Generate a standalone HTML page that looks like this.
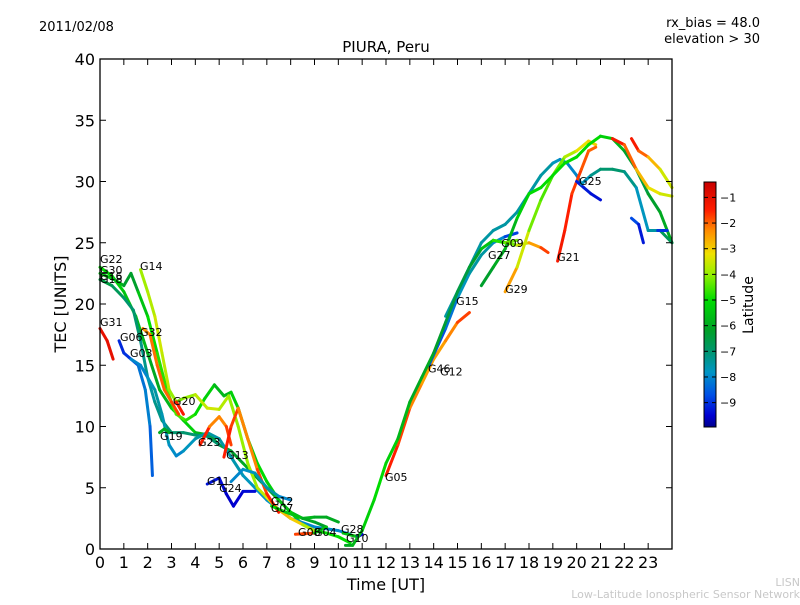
<!DOCTYPE html>
<html><head><meta charset="utf-8">
<style>
body{margin:0;background:#fff;}
svg text{font-family:"DejaVu Sans","Liberation Sans",sans-serif;}
</style></head>
<body>
<svg id="chart" width="800" height="600" viewBox="0 0 800 600" xmlns="http://www.w3.org/2000/svg">
<rect width="800" height="600" fill="#fff"/>
<text x="39" y="31" font-size="13">2011/02/08</text>
<text x="760" y="27" font-size="13" text-anchor="end">rx_bias = 48.0</text>
<text x="760" y="43" font-size="13" text-anchor="end">elevation &gt; 30</text>
<text x="386" y="52" font-size="15" text-anchor="middle">PIURA, Peru</text>
<g id="tracks"></g>
<g id="labels"></g>
<rect x="100" y="59" width="572" height="490" fill="none" stroke="#000" stroke-width="1.3"/>
<g id="xaxis"></g>
<g id="yaxis"></g>
<text x="386" y="590" font-size="16" text-anchor="middle">Time [UT]</text>
<text transform="translate(66,304) rotate(-90)" font-size="16" text-anchor="middle">TEC [UNITS]</text>
<defs><linearGradient id="jet" x1="0" y1="1" x2="0" y2="0"></linearGradient></defs>
<rect x="704" y="182" width="12" height="245" fill="url(#jet)" stroke="#000" stroke-width="1"/>
<g id="cbticks"></g>
<text transform="translate(753,305) rotate(-90)" font-size="14" text-anchor="middle">Latitude</text>
<text x="800" y="586" font-size="11" fill="#c8c8c8" text-anchor="end">LISN</text>
<text x="800" y="598" font-size="11" fill="#c8c8c8" text-anchor="end">Low-Latitude Ionospheric Sensor Network</text>
</svg>
<script>
const xTicks=[0,1,2,3,4,5,6,7,8,9,10,11,12,13,14,15,16,17,18,19,20,21,22,23];
const yTicks=[0,5,10,15,20,25,30,35,40];
const cbTicks=[-1,-2,-3,-4,-5,-6,-7,-8,-9];
const trackNames=["G22","G30","G16","G31","G06","G03","G14","G32","G20","G23","G13","G19","G11","G24","G12","G08","G28","G05","G27","G09","G15","G29","G21","G25","G-peak","G-teal2","G-red1","G-red2","G-blue1","G-blue2","G-rise"];
const trackTimes=[
[0,0.5,1,1.5,2,2.5,3,3.5,4,4.6,5,5.5,6,6.5,7,7.5,8,8.5,9,9.5,10],
[0,0.6,1,1.3,1.6,2,2.4,2.8,3.2,3.6,4,4.4,4.8,5.2,5.5,5.8,6.2,6.6,7,7.5,8,8.5,9,9.5,10,10.5],
[0,0.5,1,1.4,1.7,2,2.3,2.6,3,3.5,4,4.5,5],
[0,0.3,0.55],
[0.8,1,1.3,1.6,1.9,2.1,2.2],
[1.3,1.7,2,2.3,2.6,2.9,3.2,3.5,4,4.5,5,5.5,6,6.5,7,8,9,10,10.5],
[1.7,2,2.3,2.6,2.9,3.2,3.5,4,4.5,5,5.4,5.8,6.2,6.6,7,7.5,8,8.5,9],
[1.8,2.1,2.4,2.7,3,3.3],
[3.2,3.5],
[4.2,4.6,5,5.3,5.5],
[5.2,5.5,5.8,6.2,6.6,7,7.5],
[2.5,2.7,2.9],
[4.5,5,5.3,5.6,6,6.5],
[5.5,6,6.5,7,7.5,8],
[7.2,7.8,8.5,9,9.5],
[8.2,9,9.5],
[10.2,10.8,11],
[12,12.5,13,13.5,14,14.5,15,15.5],
[13.8,14.5,15,15.5,16,16.5,17,17.5],
[16.5,17,17.5,18,18.5,18.8],
[14.5,15,15.5,16,16.5,17,17.5,18,18.5,19,19.3,19.6,20,20.2],
[17,17.5,18,18.5,19,19.5,20,20.5,20.8],
[19.2,19.5,19.8,20.2,20.5,20.8],
[20,20.3,20.6,21],
[16,16.5,17,17.5,18,18.5,19,19.5,20,20.5,21,21.5,22,22.5,23,23.5,24],
[20.2,20.6,21,21.5,22,22.5,23,23.5,24],
[21.5,22,22.5,23,23.5,24],
[22.3,22.6,23,23.5,24],
[22.3,22.6,22.8],
[23.4,23.8],
[10.3,10.6,11,11.5,12,12.5,13,13.5,14,14.5,15,15.5,16,16.5,17,17.5]
];
const trackTec=[
[23,22.3,21,19,16,13,11.5,10.5,9.5,9.3,8.5,8,7,6,5,4,3,2.5,2.6,2.6,2.2],
[22.5,22,21.5,22.5,21,19,16,13,11,10.5,11,12.3,13.4,12.5,12.8,11.5,9,7,5.5,4,3,2,1.5,1.3,1,0.5],
[22,21.5,20.5,19.5,17,14,12,10.5,9.5,9.5,9.3,9.2,8.5],
[18,17,15.5],
[17,16,15.5,15,13,10,6],
[15.5,15,14,13,11,8.5,7.6,8,9,9.5,9,7.5,6,5,4,2.5,1.8,1.5,1.2],
[22.8,21,19,16,13,12,12.3,12.6,11.5,11.4,12.5,10,7,5,4.2,3.2,2.5,2,1.5],
[18,17.5,15,13,12,11],
[12,11],
[8.5,10,10.8,10,8.5],
[7.5,10,11.5,9,6.5,4.5,3],
[9.5,9.8,9.5],
[5.3,5.8,4.5,3.5,4.7,4.7],
[5.5,6.5,6.2,5,4.3,4],
[3.5,3,2.5,2.2,1.8],
[1.2,1.3,1.8],
[1.3,1.0,1.2],
[6,8.5,11.5,13.5,15.5,17,18.5,19.3],
[15,18,20.5,22.5,24,25,25.5,25.8],
[25.2,25,24.8,25,24.6,24.2],
[19,21,23,25,26,26.5,27.5,29,30.5,31.5,31.8,31.5,30.5,29.8],
[21,23,26,28.5,30.5,32,32.5,33.3,33],
[23.5,26,29,31,32.5,32.8],
[30,29.5,29,28.5],
[21.5,23,24.5,27,29,29.5,30.5,31.5,32,33,33.7,33.5,32.5,31,29,27.5,25],
[29.8,30.5,31,31,30.8,29.5,26,26,25],
[33.5,33,31,29.5,29,28.8],
[33.5,32.5,32,31,29.5],
[27,26.5,25],
[26,26],
[0.3,0.3,1.5,4,7,9,12,14,16,18.5,21,23,24.5,25.2,25,25.2]
];
const trackLat=[
[-5,-5,-5.5,-5.5,-6,-6,-5.5,-5,-5.5,-6,-6,-6.5,-6,-6,-6.5,-6,-6,-5.5,-6,-6,-6],
[-5.5,-5.5,-6,-6.5,-6,-5,-5,-4.5,-4.5,-4.5,-5,-5,-5.5,-6,-5.5,-5,-5.5,-5,-5,-5.5,-5.5,-5,-5,-5,-5,-5],
[-6.5,-6.5,-7,-7,-7,-7.5,-7.5,-7,-7,-7,-7,-7,-7],
[-1,-1,-1],
[-9.2,-9,-9,-8.5,-8,-8.2,-8.8],
[-8,-8,-8,-7.5,-7.5,-7.8,-8,-8,-7.5,-7.5,-7.5,-7.5,-7.7,-7.8,-7.8,-8,-8,-8,-8],
[-3.8,-4,-3.5,-3.5,-3.8,-4.2,-4.2,-3.8,-3.5,-3.5,-4,-4,-4,-3.8,-3.5,-3,-2.5,-3.5,-4],
[-2.5,-2.2,-2,-2,-2,-1.5],
[-1.5,-1.2],
[-1,-2,-2.5,-2,-1.5],
[-1.5,-1.5,-2,-2.5,-2,-1.5,-1.5],
[-6,-6,-6],
[-9.3,-9.3,-9.5,-9.6,-9.4,-9.4],
[-8,-8,-7.7,-7.5,-7.5,-8.5],
[-5,-5,-6,-6,-6.5],
[-1.5,-2,-9],
[-1.5,-9.5,-9.5],
[-1.5,-1.5,-2,-2.5,-2.5,-2.5,-2,-1.5],
[-9,-8.5,-8,-7.5,-7.5,-7.5,-8.5,-9.2],
[-5,-4.5,-4,-3,-2,-1.5],
[-7.5,-7.5,-7.5,-7.5,-7.5,-7.5,-7.5,-7.5,-7.5,-7.5,-8,-8,-8,-8],
[-2,-3,-4,-4.5,-4.5,-4,-3.5,-3,-3],
[-1.2,-1.4,-1.6,-1.8,-2,-2],
[-9.2,-9.2,-9.3,-9.4],
[-6.5,-6,-6,-5.5,-5,-5,-5,-5,-5,-5,-5,-5.5,-6,-6.5,-6.5,-6,-6],
[-8,-7.5,-7,-7,-7,-7.5,-8,-7,-6.5],
[-1.2,-1.5,-2.5,-3,-3.5,-3.5],
[-1.2,-1.5,-2.5,-3,-4],
[-8.5,-9,-9.5],
[-9,-9],
[-6,-6,-5.5,-5,-5,-5.5,-6,-6,-6,-6.5,-6.5,-6.5,-6,-5,-4.5,-4]
];
const labelNames=["G22","G30","G16","G18","G14","G31","G06","G32","G03","G20","G19","G23","G13","G11","G24","G12","G07","G08","G04","G28","G10","G05","G46","G12","G15","G27","G09","G29","G21","G25"];
const labelTimes=[0,0,0,0,1.68,0,0.84,1.68,1.26,3.06,2.52,4.11,5.29,4.49,5.0,7.17,7.17,8.31,8.98,10.11,10.32,11.96,13.76,14.27,14.94,16.28,16.83,17.0,19.18,20.1];
const labelTec=[23.35,22.45,21.96,21.71,22.78,18.2,17.0,17.4,15.67,11.76,8.9,8.4,7.35,5.22,4.65,3.59,3.02,1.06,1.06,1.31,0.57,5.55,14.4,14.16,19.92,23.67,24.65,20.9,23.51,29.7];

const X0=100,X1=672,Y0=549,Y1=59;
const xs=t=>X0+(t/24)*(X1-X0);
const ys=v=>Y0-(v/40)*(Y0-Y1);
const LMIN=-9.95,LMAX=-0.4;
const cby=l=>427-(l-LMIN)/(LMAX-LMIN)*245;
const cmapStops=[[-9.95,[0,0,140]],[-9.5,[0,0,210]],[-8.7,[0,80,230]],[-7.8,[0,150,195]],[-7,[0,150,110]],[-6.2,[0,160,40]],[-5,[0,220,0]],[-4,[150,240,0]],[-3.2,[240,225,0]],[-2.3,[255,140,0]],[-1.5,[255,30,0]],[-0.4,[200,0,0]]];
function jet(l){
 if(l<=cmapStops[0][0])return `rgb(${cmapStops[0][1]})`;
 for(let i=0;i<cmapStops.length-1;i++){
  const a=cmapStops[i],b=cmapStops[i+1];
  if(l<=b[0]){const f=(l-a[0])/(b[0]-a[0]);const c=a[1].map((v,k)=>Math.round(v+(b[1][k]-v)*f));return `rgb(${c})`;}
 }
 return `rgb(${cmapStops[cmapStops.length-1][1]})`;
}
const NS="http://www.w3.org/2000/svg";
function mk(tag,attrs,parent){const e=document.createElementNS(NS,tag);for(const k in attrs)e.setAttribute(k,attrs[k]);parent.appendChild(e);return e;}
const grad=document.getElementById('jet');
cmapStops.forEach(s=>{mk('stop',{offset:(s[0]-LMIN)/(LMAX-LMIN),'stop-color':`rgb(${s[1]})`},grad);});
const tg=document.getElementById('tracks');
trackNames.forEach((nm,i)=>{
 const g=mk('g',{},tg);
 
 
 const T=trackTimes[i],V=trackTec[i],L=trackLat[i];
 for(let j=0;j<T.length-1;j++){
  const s=mk('line',{x1:xs(T[j]),y1:ys(V[j]),x2:xs(T[j+1]),y2:ys(V[j+1]),stroke:jet((L[j]+L[j+1])/2),'stroke-width':3,'stroke-linecap':'round'},g);
  
  
 }
});
const lg=document.getElementById('labels');
labelNames.forEach((nm,i)=>{
 const t=mk('text',{x:xs(labelTimes[i]),y:ys(labelTec[i]),'font-size':11},lg);
 t.textContent=nm;
 
 
});
const xg=document.getElementById('xaxis');
xTicks.forEach(t=>{
 const x=xs(t);
 const l1=mk('line',{x1:x,y1:Y0,x2:x,y2:Y0-6,stroke:'#000'},xg);
 
 
 mk('line',{x1:x,y1:Y1,x2:x,y2:Y1+6,stroke:'#000'},xg);
 const tx=mk('text',{x:x,y:568,'font-size':16,'text-anchor':'middle'},xg);
 tx.textContent=t;
 
 
});
const yg=document.getElementById('yaxis');
yTicks.forEach(v=>{
 const y=ys(v);
 const l1=mk('line',{x1:X0,y1:y,x2:X0+6,y2:y,stroke:'#000'},yg);
 
 
 mk('line',{x1:X1,y1:y,x2:X1-6,y2:y,stroke:'#000'},yg);
 const tx=mk('text',{x:95,y:y+6,'font-size':16,'text-anchor':'end'},yg);
 tx.textContent=v;
 
 
});
const cg=document.getElementById('cbticks');
cbTicks.forEach(v=>{
 const y=cby(v);
 const l1=mk('line',{x1:716,y1:y,x2:712,y2:y,stroke:'#000'},cg);
 
 
 mk('line',{x1:704,y1:y,x2:708,y2:y,stroke:'#000'},cg);
 const tx=mk('text',{x:720,y:y+4,'font-size':11},cg);
 tx.textContent='\u2212'+Math.abs(v);
 
 
});
</script>
</body></html>
